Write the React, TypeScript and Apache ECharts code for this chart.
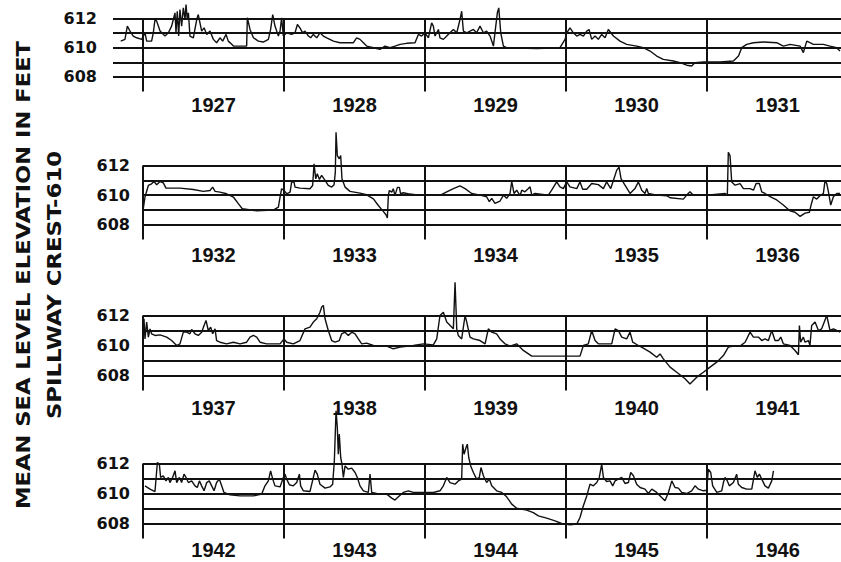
import React, { useEffect, useRef } from 'react';
import * as echarts from 'echarts';

// Row start years (each row spans five years)
const rowStarts = [1927, 1932, 1937, 1942];
const yearLabels = [
  [1927, 1928, 1929, 1930, 1931],
  [1932, 1933, 1934, 1935, 1936],
  [1937, 1938, 1939, 1940, 1941],
  [1942, 1943, 1944, 1945, 1946],
];
const gridLevels = [608, 609, 610, 611, 612];

// [decimal year, elevation ft]
const levels1927: number[][] = [
  [1926.842,610.45],[1926.872,610.57],[1926.889,611.48],[1926.908,611.14],[1926.931,610.8],[1926.955,610.68],[1926.991,610.57],[1927.014,611.02],[1927.026,610.45],[1927.061,610.45],[1927.073,611.02],[1927.085,611.93],[1927.097,611.82],[1927.121,611.14],[1927.156,610.8],[1927.180,611.02],[1927.203,611.48],[1927.215,611.93],[1927.227,612.39],[1927.234,611.02],[1927.243,612.5],[1927.253,610.8],[1927.262,612.61],[1927.274,611.48],[1927.286,612.73],[1927.298,611.93],[1927.305,612.95],[1927.314,611.93],[1927.322,612.39],[1927.333,610.8],[1927.357,610.68],[1927.381,611.93],[1927.392,612.27],[1927.404,611.7],[1927.416,611.14],[1927.433,611.36],[1927.452,610.91],[1927.475,611.14],[1927.499,610.57],[1927.522,610.34],[1927.546,610.68],[1927.565,610.45],[1927.589,610.91],[1927.605,610.45],[1927.629,610.23],[1927.641,610.11],[1927.735,610.11],[1927.740,612.05],[1927.759,611.25],[1927.783,610.68],[1927.818,610.45],[1927.853,610.39],[1927.889,610.57],[1927.905,611.25],[1927.920,612.27],[1927.936,611.48],[1927.960,610.8],[1927.972,611.14],[1927.983,612.05],[1927.995,610.8],
  [1928.019,611.02],[1928.054,610.91],[1928.078,611.02],[1928.095,611.59],[1928.113,611.36],[1928.132,611.02],[1928.149,611.14],[1928.173,610.8],[1928.189,610.68],[1928.208,610.91],[1928.232,610.68],[1928.255,611.02],[1928.279,610.8],[1928.303,610.68],[1928.350,610.45],[1928.397,610.34],[1928.492,610.34],[1928.515,610.68],[1928.539,610.57],[1928.563,610.34],[1928.586,610.11],[1928.634,610.0],[1928.681,609.89],[1928.716,610.11],[1928.752,610.0],[1928.787,610.11],[1928.823,610.23],[1928.870,610.3],[1928.929,610.34],[1928.953,610.91],[1928.976,610.8],[1929.000,611.02],[1929.024,610.68],[1929.047,611.7],[1929.059,611.48],[1929.071,610.8],[1929.095,611.25],[1929.106,610.68],[1929.130,610.57],[1929.154,610.8],[1929.177,611.02],[1929.201,611.25],[1929.225,611.02],[1929.248,611.93],[1929.260,612.5],[1929.272,611.14],[1929.296,611.02],
  [1929.343,611.25],[1929.366,611.02],[1929.390,611.48],[1929.414,611.02],[1929.437,611.14],[1929.461,610.8],[1929.485,610.11],[1929.496,611.02],[1929.513,612.39],[1929.523,612.73],[1929.537,611.02],[1929.556,610.11],[1929.579,610.0],[1929.792,609.95],[1929.957,610.0],[1929.993,610.57],[1930.005,611.02],[1930.028,611.36],[1930.052,611.02],[1930.076,610.8],[1930.099,610.91],[1930.123,610.8],[1930.147,611.14],[1930.163,611.25],[1930.182,610.57],[1930.206,610.8],[1930.229,610.57],[1930.253,610.91],[1930.277,610.68],[1930.300,611.25],[1930.336,610.8],[1930.383,610.45],[1930.430,610.23],[1930.501,610.11],[1930.548,610.0],[1930.596,609.77],[1930.643,609.43],[1930.690,609.2],[1930.761,609.09],[1930.809,608.98],[1930.856,608.8],[1930.891,608.75],[1930.915,608.98],[1930.974,609.02],[1931.092,609.02],[1931.187,609.09],[1931.223,609.43],[1931.246,610.0],[1931.281,610.23],[1931.329,610.34],[1931.400,610.39],[1931.494,610.34],[1931.541,610.11],[1931.589,610.23],[1931.660,610.11],[1931.683,609.66],[1931.707,610.45],[1931.730,610.34],[1931.754,610.23],[1931.825,610.23],[1931.872,610.11],[1931.919,610.0],[1931.943,609.77],
];

const levels1932: number[][] = [
  [1932.002,609.08],[1932.014,609.87],[1932.038,610.65],[1932.061,610.76],[1932.078,610.92],[1932.097,610.7],[1932.121,610.92],[1932.144,610.83],[1932.163,610.47],[1932.262,610.47],[1932.357,610.38],[1932.428,610.25],[1932.475,610.31],[1932.494,610.54],[1932.511,610.25],[1932.546,610.2],[1932.593,610.09],[1932.641,609.87],[1932.676,609.42],[1932.704,609.08],[1932.806,608.94],[1932.924,608.99],[1932.960,609.19],[1932.972,609.87],[1932.983,610.43],[1933.000,610.31],[1933.019,610.09],[1933.043,610.2],[1933.054,610.88],[1933.071,610.88],[1933.078,610.54],[1933.113,610.47],[1933.184,610.43],[1933.203,610.65],[1933.213,612.11],[1933.225,611.1],[1933.236,611.44],[1933.251,611.06],[1933.267,611.33],[1933.291,610.99],[1933.314,610.65],[1933.338,610.54],[1933.355,610.7],[1933.364,611.55],[1933.369,614.25],[1933.378,612.67],[1933.392,612.45],[1933.402,612.67],[1933.411,611.1],[1933.433,610.54],[1933.468,610.25],[1933.539,610.13],[1933.586,610.02],[1933.634,609.75],[1933.669,609.3],[1933.704,608.9],[1933.723,608.67],[1933.733,608.45],[1933.740,609.98],[1933.747,610.31],[1933.764,610.2],[1933.775,610.43],[1933.787,609.98],[1933.804,610.52],[1933.818,610.52],[1933.827,610.09],[1933.846,610.16],[1933.894,610.07],[1933.965,609.98],[1934.106,609.98],[1934.154,610.22],[1934.201,610.44],[1934.248,610.62],[1934.284,610.44],[1934.331,610.11],[1934.390,610.0],[1934.437,609.89],[1934.456,609.56],[1934.473,609.78],[1934.496,609.44],[1934.532,609.6],[1934.556,610.0],[1934.579,609.78],[1934.603,610.11],[1934.615,610.93],[1934.631,610.11],[1934.650,610.33],[1934.674,609.96],[1934.686,610.33],[1934.709,610.22],[1934.733,610.44],[1934.745,610.56],[1934.757,610.0],[1934.780,610.11],[1934.875,610.0],[1934.898,610.33],[1934.934,610.89],[1934.957,610.56],[1934.981,610.44],[1935.005,610.89],[1935.028,610.56],[1935.076,610.44],[1935.099,610.89],[1935.118,610.4],[1935.147,610.4],[1935.182,610.78],[1935.229,610.71],[1935.265,610.44],[1935.288,610.89],[1935.317,610.44],[1935.340,611.11],[1935.359,611.67],[1935.376,611.89],[1935.390,611.11],[1935.418,610.67],[1935.454,610.11],[1935.489,610.44],[1935.513,610.89],[1935.537,610.33],[1935.560,610.11],[1935.572,610.44],[1935.584,610.11],[1935.643,610.0],[1935.714,609.96],[1935.738,609.82],[1935.832,609.73],[1935.856,610.0],[1935.879,610.22],[1935.898,610.04],[1935.998,610.0],[1936.128,610.11],[1936.144,610.0],[1936.151,612.89],[1936.163,612.67],[1936.175,610.89],[1936.199,610.67],[1936.234,610.78],[1936.258,610.44],[1936.305,610.44],[1936.329,610.33],[1936.348,610.78],[1936.371,610.78],[1936.388,610.22],[1936.411,610.11],[1936.447,609.89],[1936.494,609.67],[1936.541,609.33],[1936.589,608.93],[1936.624,608.84],[1936.660,608.56],[1936.695,608.78],[1936.726,608.84],[1936.735,609.22],[1936.754,609.89],[1936.778,609.73],[1936.801,609.96],[1936.825,610.11],[1936.837,611.0],[1936.849,610.78],[1936.861,610.22],[1936.877,609.33],[1936.896,609.89],[1936.920,610.11],[1936.943,610.11],
];

const levels1937: number[][] = [
  [1937.007,611.78],[1937.014,610.44],[1937.026,611.56],[1937.038,610.56],[1937.050,611.11],[1937.061,610.78],[1937.085,610.67],[1937.121,610.71],[1937.168,610.56],[1937.203,610.33],[1937.239,610.0],[1937.262,610.11],[1937.286,610.89],[1937.310,610.89],[1937.333,610.78],[1937.345,611.07],[1937.369,610.78],[1937.392,610.67],[1937.416,610.89],[1937.433,611.33],[1937.447,611.67],[1937.463,611.0],[1937.480,611.22],[1937.494,610.78],[1937.511,611.11],[1937.522,610.33],[1937.546,610.22],[1937.593,610.11],[1937.641,610.22],[1937.688,610.11],[1937.735,610.22],[1937.759,610.56],[1937.783,610.67],[1937.806,610.56],[1937.830,610.22],[1937.877,610.11],[1937.972,610.11],[1938.000,610.44],[1938.019,610.22],[1938.066,610.11],[1938.113,610.33],[1938.149,611.11],[1938.184,611.22],[1938.208,611.56],[1938.232,611.78],[1938.255,612.22],[1938.267,612.56],[1938.279,612.67],[1938.291,611.78],[1938.314,611.0],[1938.338,610.33],[1938.362,610.22],[1938.392,610.33],[1938.409,610.78],[1938.433,610.89],[1938.456,610.67],[1938.480,610.89],[1938.504,610.78],[1938.527,610.44],[1938.551,610.11],[1938.586,610.16],[1938.634,610.0],[1938.728,609.96],[1938.775,609.78],[1938.823,609.89],[1938.917,610.0],[1938.988,610.11],[1939.059,610.04],[1939.083,610.44],[1939.106,612.0],[1939.130,612.22],[1939.154,611.56],[1939.201,611.11],[1939.213,614.22],[1939.225,611.11],[1939.236,610.67],[1939.260,610.44],[1939.284,612.0],[1939.296,611.56],[1939.319,610.56],[1939.343,610.44],[1939.390,610.33],[1939.426,610.11],[1939.449,611.11],[1939.473,610.89],[1939.508,610.78],[1939.532,610.44],[1939.567,610.11],[1939.603,609.96],[1939.650,610.11],[1939.697,609.67],[1939.757,609.29],[1940.099,609.29],[1940.123,610.0],[1940.158,610.11],[1940.182,611.0],[1940.206,610.33],[1940.229,610.11],[1940.324,610.11],[1940.348,611.11],[1940.371,611.0],[1940.395,610.56],[1940.430,610.44],[1940.454,610.89],[1940.473,610.22],[1940.513,610.0],[1940.548,609.82],[1940.596,609.56],[1940.643,609.22],[1940.667,609.44],[1940.690,609.11],[1940.738,608.56],[1940.785,608.22],[1940.844,607.78],[1940.879,607.44],[1940.927,607.89],[1940.974,608.22],[1941.021,608.56],[1941.069,608.89],[1941.116,609.33],[1941.151,609.89],[1941.187,609.96],[1941.234,609.96],[1941.270,610.22],[1941.305,610.89],[1941.329,610.56],[1941.364,610.56],[1941.388,610.33],[1941.411,610.44],[1941.435,610.33],[1941.459,611.0],[1941.482,610.33],[1941.506,610.33],[1941.523,610.56],[1941.541,610.11],[1941.589,610.0],[1941.624,609.67],[1941.648,609.38],[1941.655,611.33],[1941.664,610.22],[1941.683,610.56],[1941.695,610.22],[1941.719,610.33],[1941.730,610.0],[1941.742,611.33],[1941.766,611.56],[1941.790,611.0],[1941.813,611.11],[1941.849,612.0],[1941.872,611.0],[1941.896,611.11],[1941.920,611.0],[1941.943,610.89],
];

const levels1942: number[][] = [
  [1942.014,610.51],[1942.050,610.29],[1942.085,610.13],[1942.102,612.07],[1942.116,611.96],[1942.125,611.07],[1942.144,611.18],[1942.163,610.84],[1942.180,611.07],[1942.191,610.73],[1942.210,611.07],[1942.227,611.51],[1942.239,610.73],[1942.258,611.07],[1942.274,610.73],[1942.291,611.29],[1942.305,611.07],[1942.322,610.73],[1942.345,610.84],[1942.369,610.51],[1942.385,610.4],[1942.400,610.84],[1942.416,610.51],[1942.433,610.18],[1942.452,610.73],[1942.470,610.84],[1942.487,610.51],[1942.504,610.18],[1942.522,610.73],[1942.541,610.96],[1942.558,610.51],[1942.574,610.07],[1942.617,609.91],[1942.688,609.84],[1942.783,609.84],[1942.842,609.96],[1942.865,610.51],[1942.889,610.84],[1942.905,611.51],[1942.920,610.96],[1942.936,610.51],[1942.972,610.44],[1942.995,611.07],[1943.007,611.29],[1943.019,610.96],[1943.038,610.58],[1943.066,610.51],[1943.090,610.73],[1943.109,611.29],[1943.118,610.51],[1943.137,610.18],[1943.184,610.13],[1943.208,611.07],[1943.220,611.56],[1943.236,611.29],[1943.255,610.62],[1943.291,610.36],[1943.326,610.44],[1943.345,610.62],[1943.357,612.18],[1943.369,615.51],[1943.378,614.4],[1943.385,612.62],[1943.392,613.96],[1943.402,612.4],[1943.411,611.96],[1943.421,611.07],[1943.433,611.84],[1943.456,611.62],[1943.480,611.69],[1943.504,611.4],[1943.520,611.07],[1943.539,610.51],[1943.563,610.18],[1943.598,610.07],[1943.610,611.29],[1943.622,610.07],[1943.657,610.0],[1943.728,609.96],[1943.764,609.69],[1943.787,609.56],[1943.811,609.78],[1943.846,610.07],[1943.882,610.18],[1943.917,610.07],[1944.059,610.07],[1944.106,610.18],[1944.130,610.51],[1944.154,611.07],[1944.177,610.73],[1944.213,610.62],[1944.236,610.84],[1944.260,610.96],[1944.267,613.29],[1944.277,612.62],[1944.291,613.07],[1944.300,613.29],[1944.310,612.4],[1944.324,611.84],[1944.343,611.4],[1944.366,610.96],[1944.385,611.07],[1944.397,611.73],[1944.414,611.18],[1944.437,610.73],[1944.456,610.96],[1944.473,610.51],[1944.508,610.18],[1944.544,610.07],[1944.579,609.78],[1944.615,609.29],[1944.650,609.02],[1944.721,608.89],[1944.768,608.73],[1944.804,608.51],[1944.863,608.36],[1944.922,608.18],[1944.969,608.0],[1945.028,607.91],[1945.076,607.96],[1945.099,608.4],[1945.123,609.18],[1945.147,609.84],[1945.170,610.62],[1945.194,610.51],[1945.218,610.73],[1945.236,611.07],[1945.253,611.96],[1945.265,611.07],[1945.288,610.8],[1945.312,610.84],[1945.331,610.51],[1945.348,610.84],[1945.371,610.96],[1945.395,611.07],[1945.418,610.67],[1945.442,610.73],[1945.459,611.4],[1945.478,611.18],[1945.501,610.62],[1945.525,610.4],[1945.560,610.29],[1945.584,610.0],[1945.608,610.29],[1945.643,610.07],[1945.678,609.73],[1945.702,609.51],[1945.726,610.07],[1945.750,610.84],[1945.773,610.4],[1945.797,610.36],[1945.820,610.07],[1945.856,610.0],[1945.891,610.18],[1945.915,610.51],[1945.939,610.29],[1945.974,610.18],[1945.998,610.22],[1946.009,611.62],[1946.026,611.4],[1946.040,610.51],[1946.069,610.07],[1946.104,610.18],[1946.116,610.73],[1946.128,611.07],[1946.144,610.84],[1946.158,610.51],[1946.187,610.73],[1946.210,611.29],[1946.222,610.62],[1946.246,610.4],[1946.281,610.29],[1946.317,610.29],[1946.340,611.51],[1946.357,611.07],[1946.371,611.29],[1946.388,610.96],[1946.411,610.51],[1946.435,610.36],[1946.459,610.84],[1946.471,611.51],
];

const rowLevels = [levels1927, levels1932, levels1937, levels1942];

const INK = '#111';

export default function App() {
  const ref = useRef<HTMLDivElement>(null);

  useEffect(() => {
    if (!ref.current) return;
    const chart = echarts.init(ref.current, null, { renderer: 'svg' });

    const layout = [
      { left: 113, top: 18.5, height: 73, lead: 30 / 141, labelMargin: 3, yMargin: 16 },
      { left: 143, top: 165.5, height: 74, lead: 0, labelMargin: 5, yMargin: 13 },
      { left: 143, top: 315.5, height: 75, lead: 0, labelMargin: 7, yMargin: 13 },
      { left: 143, top: 463.5, height: 75, lead: 0, labelMargin: 1, yMargin: 13 },
    ];

    const grids = layout.map((l) => ({
      left: l.left,
      top: l.top,
      width: 841 - l.left,
      height: l.height,
      containLabel: false,
    }));

    const xAxes = layout.map((l, i) => ({
      type: 'value',
      gridIndex: i,
      min: rowStarts[i] - l.lead,
      max: rowStarts[i] + 4.95,
      axisLine: { show: false },
      axisTick: { show: false },
      splitLine: { show: false },
      axisLabel: {
        customValues: yearLabels[i].map((y) => y + 0.5),
        formatter: (v: number) => String(Math.floor(v)),
        fontFamily: 'Liberation Sans',
        fontWeight: 'bold',
        fontSize: 20,
        color: INK,
        margin: l.labelMargin,
      },
    }));

    const yAxes = layout.map((l, i) => ({
      type: 'value',
      gridIndex: i,
      min: 607,
      max: 612,
      interval: 1,
      axisLine: { show: false },
      axisTick: { show: false },
      splitLine: { show: false },
      axisLabel: {
        formatter: (v: number) => (Math.round(v) % 2 === 0 ? String(v) : ''),
        fontFamily: 'DejaVu Sans',
        fontWeight: 'bold',
        fontSize: 16,
        color: INK,
        margin: l.yMargin,
      },
    }));

    const series = rowLevels.map((data, i) => ({
      type: 'line',
      xAxisIndex: i,
      yAxisIndex: i,
      data,
      showSymbol: false,
      symbol: 'none',
      clip: false,
      silent: true,
      lineStyle: { color: INK, width: 1.4 },
      markLine: {
        silent: true,
        symbol: ['none', 'none'],
        label: { show: false },
        emphasis: { disabled: true },
        lineStyle: { color: INK, width: 2, type: 'solid' },
        data: [
          ...gridLevels.map((v) => ({ yAxis: v })),
          ...yearLabels[i].map((y) => ({ xAxis: y })),
        ],
      },
    }));

    chart.setOption({
      animation: false,
      backgroundColor: '#fff',
      grid: grids,
      xAxis: xAxes,
      yAxis: yAxes,
      series,
      graphic: [
        {
          type: 'text',
          x: 24,
          y: 275,
          rotation: Math.PI / 2,
          scaleX: 1.19,
          style: {
            text: 'MEAN SEA LEVEL ELEVATION IN FEET',
            fontFamily: 'DejaVu Sans',
            fontWeight: 'bold',
            fontSize: 19,
            fill: INK,
            align: 'center',
            verticalAlign: 'middle',
          },
        },
        {
          type: 'text',
          x: 55,
          y: 285,
          rotation: Math.PI / 2,
          scaleX: 1.2,
          style: {
            text: 'SPILLWAY CREST-610',
            fontFamily: 'DejaVu Sans',
            fontWeight: 'bold',
            fontSize: 19,
            fill: INK,
            align: 'center',
            verticalAlign: 'middle',
          },
        },
      ],
    });

    return () => chart.dispose();
  }, []);

  return (
    <div
      ref={ref}
      style={{ position: 'absolute', left: 0, top: 0, width: 841, height: 562, background: '#fff' }}
    />
  );
}
